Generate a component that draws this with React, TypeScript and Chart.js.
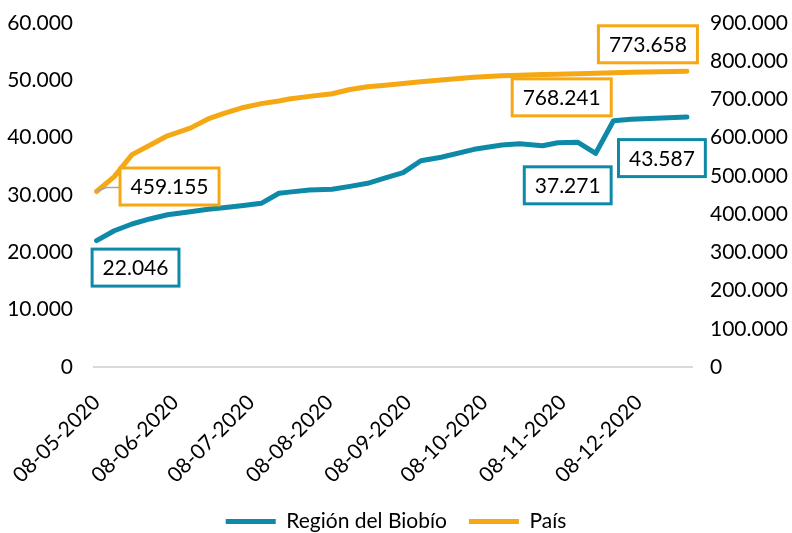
import React, { useEffect, useRef } from "react";
import { Chart, registerables } from "chart.js";

Chart.register(...registerables);

// Sample dates (YYYY-MM-DD)
const fechas = [
  "2020-05-08", "2020-05-15", "2020-05-22", "2020-05-29", "2020-06-05",
  "2020-06-14", "2020-06-21", "2020-06-27", "2020-07-05", "2020-07-12",
  "2020-07-19", "2020-07-23", "2020-07-31", "2020-08-09", "2020-08-16",
  "2020-08-23", "2020-08-30", "2020-09-06", "2020-09-13", "2020-09-21",
  "2020-10-04", "2020-10-15", "2020-10-22", "2020-10-31", "2020-11-06",
  "2020-11-14", "2020-11-21", "2020-11-28", "2020-12-05", "2020-12-27",
];

// Región del Biobío (left axis)
const regionBiobio = [
  22046, 23770, 24940, 25820, 26550,
  27090, 27500, 27770, 28150, 28550,
  30300, 30500, 30870, 31000, 31500,
  32040, 32970, 33900, 35980, 36580,
  37970, 38720, 38930, 38600, 39120,
  39190, 37271, 42960, 43200, 43587,
];

// País (right axis)
const pais = [
  459155, 498000, 555700, 580000, 605000,
  625000, 649000, 663000, 679000, 689000,
  696000, 701000, 708000, 715000, 726000,
  733000, 737000, 742000, 746000, 751000,
  758000, 762000, 763000, 765000, 766000,
  767500, 768241, 770000, 771000, 773658,
];

const etiquetasEjeX = [
  "08-05-2020", "08-06-2020", "08-07-2020", "08-08-2020",
  "08-09-2020", "08-10-2020", "08-11-2020", "08-12-2020",
];

const nombresSeries = ["Región del Biobío", "País"];

// indices of points that carry a data label
const etiquetasBiobio = [0, 26, 29];
const etiquetasPais = [0, 26, 29];

const COLOR_BIOBIO = "#0E8AA8";
const COLOR_PAIS = "#F5A814";
const FONT = "Lato";

const DAY = 86400000;
const BASE = Date.UTC(2020, 4, 8);
const isoToDay = (s: string) => {
  const [y, m, d] = s.split("-").map(Number);
  return Math.round((Date.UTC(y, m - 1, d) - BASE) / DAY);
};
const dmyToDay = (s: string) => {
  const [d, m, y] = s.split("-").map(Number);
  return Math.round((Date.UTC(y, m - 1, d) - BASE) / DAY);
};
const fmt = (v: number) =>
  Math.round(v).toString().replace(/\B(?=(\d{3})+(?!\d))/g, ".");

// label box placement offsets (styling), per dataset / label
const offsets: Record<number, { dx: number; dy: number; leader?: boolean }[]> = {
  0: [
    { dx: 39, dy: 27 },
    { dx: -28, dy: 32 },
    { dx: -25, dy: 41 },
  ],
  1: [
    { dx: 73, dy: -5, leader: true },
    { dx: -34, dy: 24 },
    { dx: -39, dy: -27 },
  ],
};

const labelPlugin = {
  id: "boxLabels",
  afterDatasetsDraw(chart: any) {
    const ctx = chart.ctx;
    const sets = [etiquetasBiobio, etiquetasPais];
    const colors = [COLOR_BIOBIO, COLOR_PAIS];
    ctx.save();
    ctx.font = `21px ${FONT}`;
    ctx.textAlign = "center";
    ctx.textBaseline = "middle";
    sets.forEach((idxs, ds) => {
      const meta = chart.getDatasetMeta(ds);
      const data = chart.data.datasets[ds].data;
      idxs.forEach((idx, k) => {
        const pt = meta.data[idx];
        const off = offsets[ds][k];
        const cx = pt.x + off.dx;
        const cy = pt.y + off.dy;
        const text = fmt(data[idx].y);
        const w = ctx.measureText(text).width + 21;
        const h = 37;
        if (off.leader) {
          ctx.strokeStyle = "#A6A6A6";
          ctx.lineWidth = 1.5;
          ctx.beginPath();
          ctx.moveTo(pt.x, pt.y);
          ctx.lineTo(pt.x + 10, pt.y - 4);
          ctx.lineTo(cx - w / 2, pt.y - 4);
          ctx.stroke();
        }
        ctx.fillStyle = "#fff";
        ctx.fillRect(cx - w / 2, cy - h / 2, w, h);
        ctx.strokeStyle = colors[ds];
        ctx.lineWidth = 3;
        ctx.strokeRect(cx - w / 2, cy - h / 2, w, h);
        ctx.fillStyle = "#000";
        ctx.fillText(text, cx, cy + 1);
      });
    });
    ctx.restore();
  },
};

export default function App() {
  const ref = useRef<HTMLCanvasElement | null>(null);

  useEffect(() => {
    document.body.style.margin = "0";
    if (!ref.current) return;
    const chart = new Chart(ref.current, {
      type: "line",
      data: {
        datasets: [
          {
            label: nombresSeries[0],
            data: fechas.map((f, i) => ({ x: isoToDay(f), y: regionBiobio[i] })),
            borderColor: COLOR_BIOBIO,
            backgroundColor: COLOR_BIOBIO,
            borderWidth: 5,
            pointRadius: 0,
            tension: 0,
            borderCapStyle: "round",
            borderJoinStyle: "round",
            yAxisID: "y",
          },
          {
            label: nombresSeries[1],
            data: fechas.map((f, i) => ({ x: isoToDay(f), y: pais[i] })),
            borderColor: COLOR_PAIS,
            backgroundColor: COLOR_PAIS,
            borderWidth: 5,
            pointRadius: 0,
            tension: 0,
            borderCapStyle: "round",
            borderJoinStyle: "round",
            yAxisID: "y1",
          },
        ],
      },
      options: {
        responsive: false,
        animation: false,
        layout: { padding: { top: 23, bottom: -9, left: 0, right: 0 } },
        plugins: {
          legend: {
            position: "bottom",
            labels: {
              font: { family: FONT, size: 21 },
              color: "#000",
              boxWidth: 50,
              boxHeight: 5,
              padding: 22,
              generateLabels: (c: any) =>
                c.data.datasets.map((d: any, i: number) => ({
                  text: d.label,
                  fillStyle: d.borderColor,
                  strokeStyle: d.borderColor,
                  lineWidth: 0,
                  fontColor: "#000",
                  datasetIndex: i,
                  hidden: false,
                })),
            },
          },
          tooltip: { enabled: false },
        },
        scales: {
          x: {
            type: "linear",
            min: -1,
            max: 235,
            grid: { display: false, drawTicks: true, tickLength: 23 },
            border: { display: true, color: "#D9D9D9", width: 2 },
            afterBuildTicks: (s: any) => {
              s.ticks = etiquetasEjeX.map((l) => ({ value: dmyToDay(l) }));
            },
            afterFit: (s: any) => {
              s.height = 122;
            },
            ticks: {
              autoSkip: false,
              minRotation: 45,
              maxRotation: 45,
              padding: 0,
              color: "#000",
              font: { family: FONT, size: 21 },
              callback: (v: any) => {
                const l = etiquetasEjeX.find((e) => dmyToDay(e) === v);
                return l ?? "";
              },
            },
          },
          y: {
            position: "left",
            min: 0,
            max: 60000,
            grid: { display: false, drawTicks: true, tickLength: 21 },
            border: { display: false },
            afterFit: (s: any) => {
              s.width = 94;
            },
            ticks: {
              stepSize: 10000,
              padding: 0,
              color: "#000",
              font: { family: FONT, size: 21 },
              callback: (v: any) => fmt(Number(v)),
            },
          },
          y1: {
            position: "right",
            min: 0,
            max: 900000,
            grid: { display: false, drawTicks: true, tickLength: 18 },
            border: { display: false },
            afterFit: (s: any) => {
              s.width = 100;
            },
            ticks: {
              stepSize: 100000,
              padding: 0,
              color: "#000",
              font: { family: FONT, size: 21 },
              callback: (v: any) => fmt(Number(v)),
            },
          },
        },
      },
      plugins: [labelPlugin],
    } as any);
    return () => chart.destroy();
  }, []);

  return (
    <div style={{ width: 792, height: 533 }}>
      <canvas ref={ref} width={792} height={533} />
    </div>
  );
}
